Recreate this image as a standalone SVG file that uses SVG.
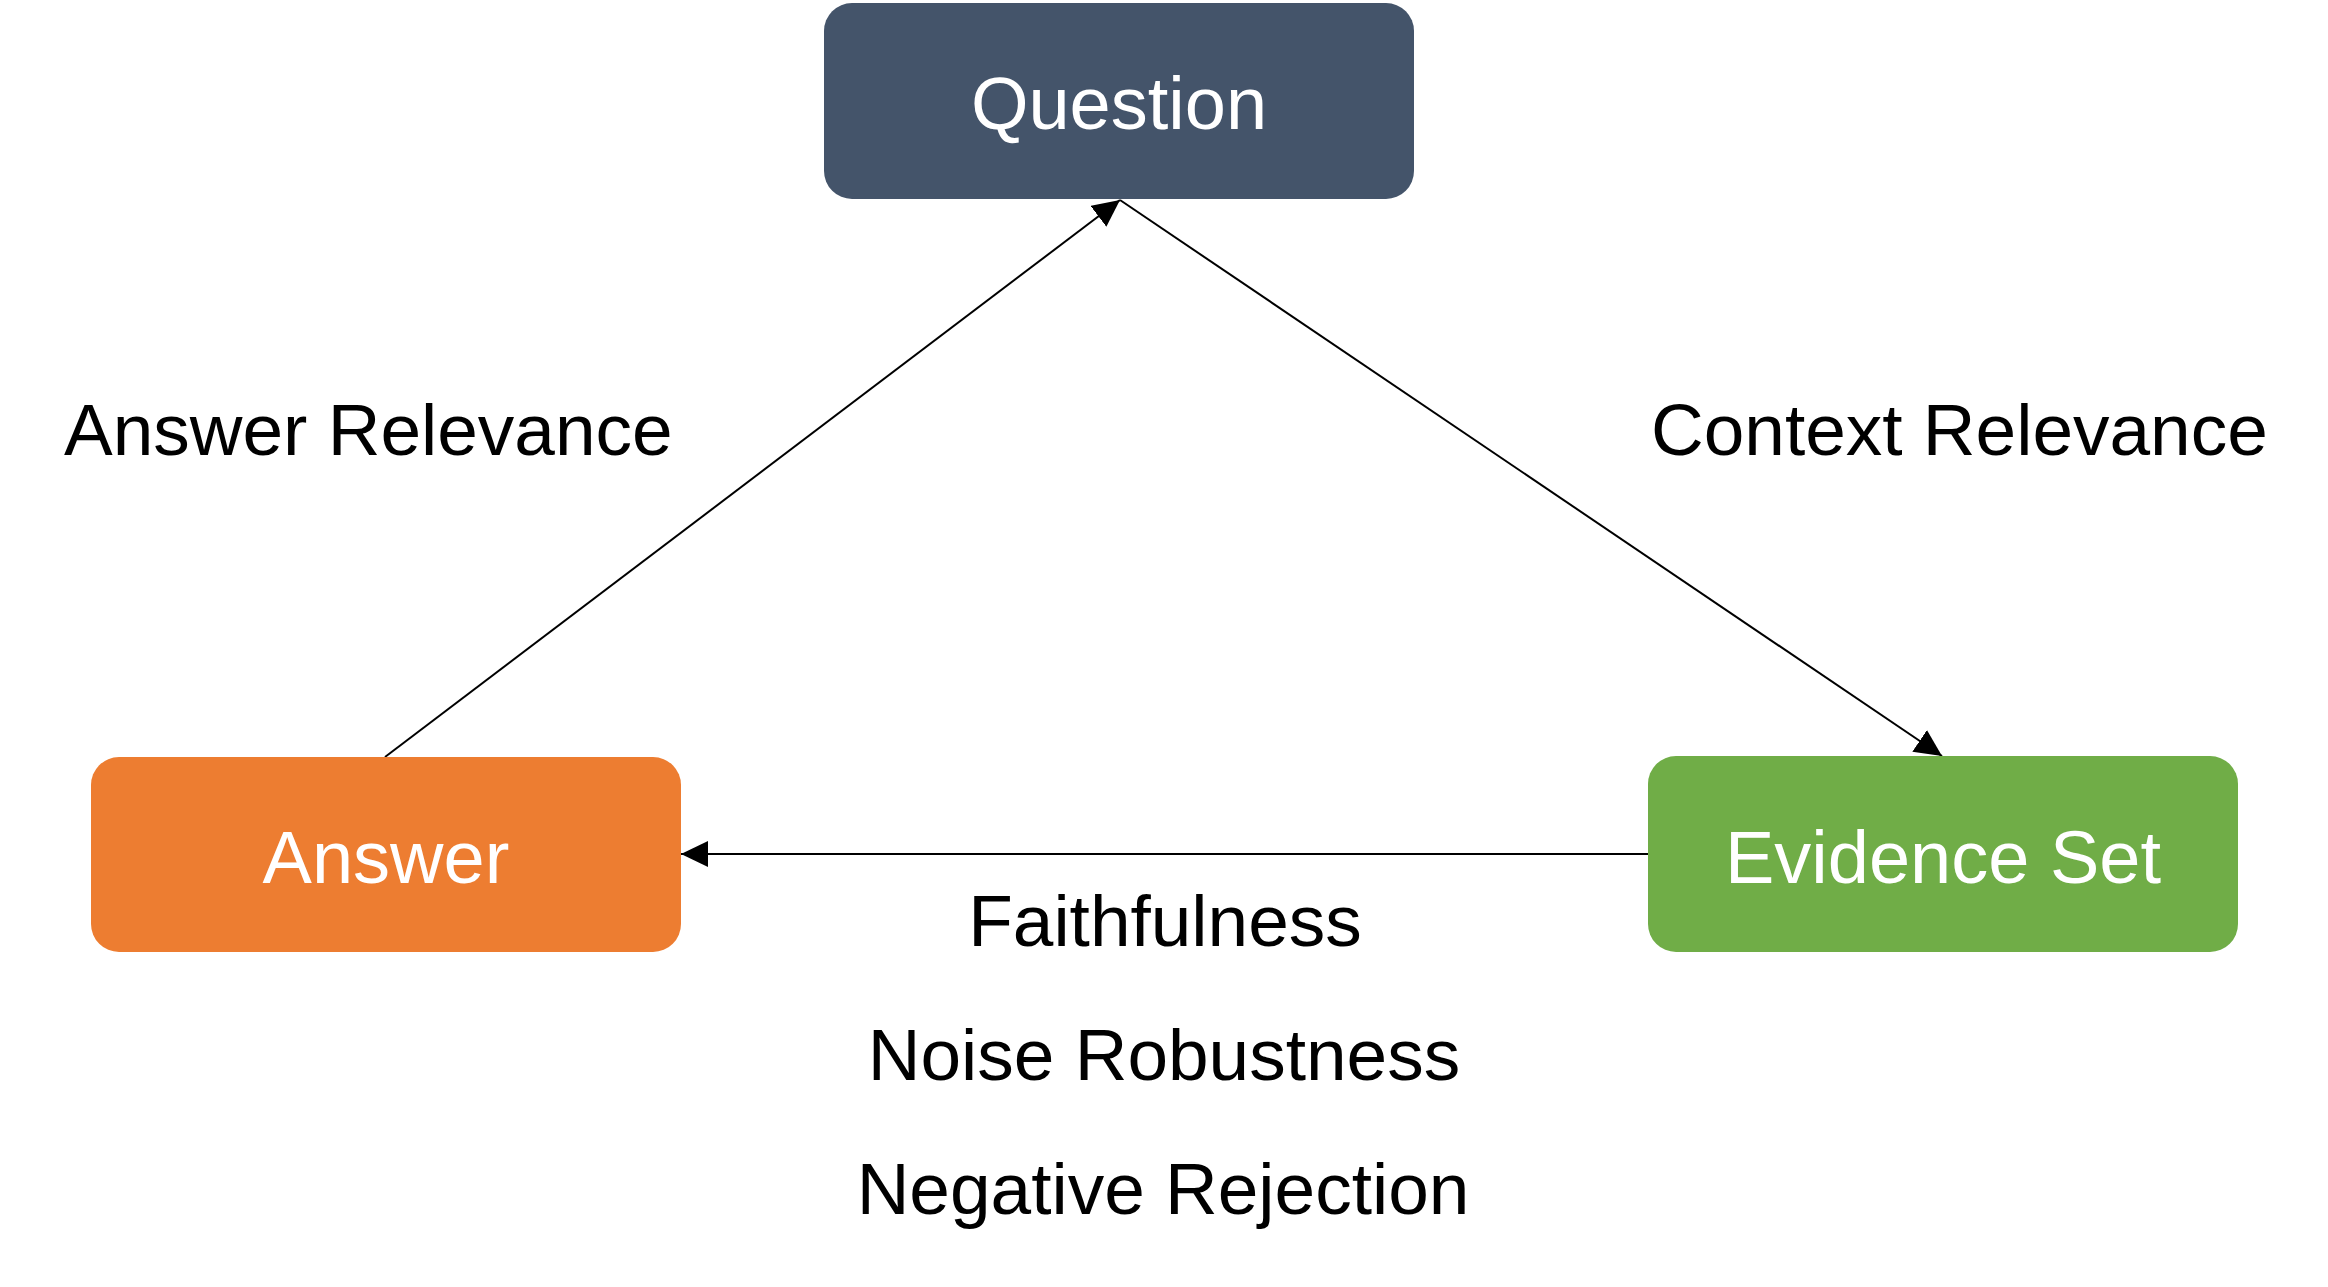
<svg xmlns="http://www.w3.org/2000/svg" width="2328" height="1287" viewBox="0 0 2328 1287">
<style>
.box-text{font-family:"Liberation Sans","Open Sans",sans-serif;font-size:74px;fill:#FFFFFF;text-anchor:middle}
.lbl{font-family:"Liberation Sans","Open Sans",sans-serif;font-size:73px;fill:#000000}
.conn{stroke:#000000;stroke-width:2;fill:none}
</style>
<defs>
<marker id="arrow" markerUnits="userSpaceOnUse" markerWidth="28" markerHeight="26" refX="27" refY="13" orient="auto">
<path d="M0,0 L27,13 L0,26 Z" fill="#000000"/>
</marker>
</defs>
<rect width="2328" height="1287" fill="#FFFFFF"/>
<g id="connectors">
<line class="conn" x1="385" y1="757" x2="1120" y2="200" marker-end="url(#arrow)"/>
<line class="conn" x1="1120" y1="200" x2="1942" y2="756" marker-end="url(#arrow)"/>
<line class="conn" x1="1648" y1="854" x2="681" y2="854" marker-end="url(#arrow)"/>
</g>
<g id="question">
<rect x="824" y="3" width="590" height="196" rx="28" ry="28" fill="#44546A"/>
<text class="box-text" x="1119" y="129">Question</text>
</g>
<g id="answer">
<rect x="91" y="757" width="590" height="195" rx="28" ry="28" fill="#ED7D31"/>
<text class="box-text" x="386" y="883">Answer</text>
</g>
<g id="evidence">
<rect x="1648" y="756" width="590" height="196" rx="28" ry="28" fill="#70AD47"/>
<text class="box-text" x="1943" y="883">Evidence Set</text>
</g>
<g id="labels">
<text class="lbl" x="64" y="455">Answer Relevance</text>
<text class="lbl" x="1651" y="455">Context Relevance</text>
<text class="lbl" x="1165" y="946" text-anchor="middle">Faithfulness</text>
<text class="lbl" x="1164" y="1080" text-anchor="middle">Noise Robustness</text>
<text class="lbl" x="1163" y="1214" text-anchor="middle">Negative Rejection</text>
</g>
</svg>
